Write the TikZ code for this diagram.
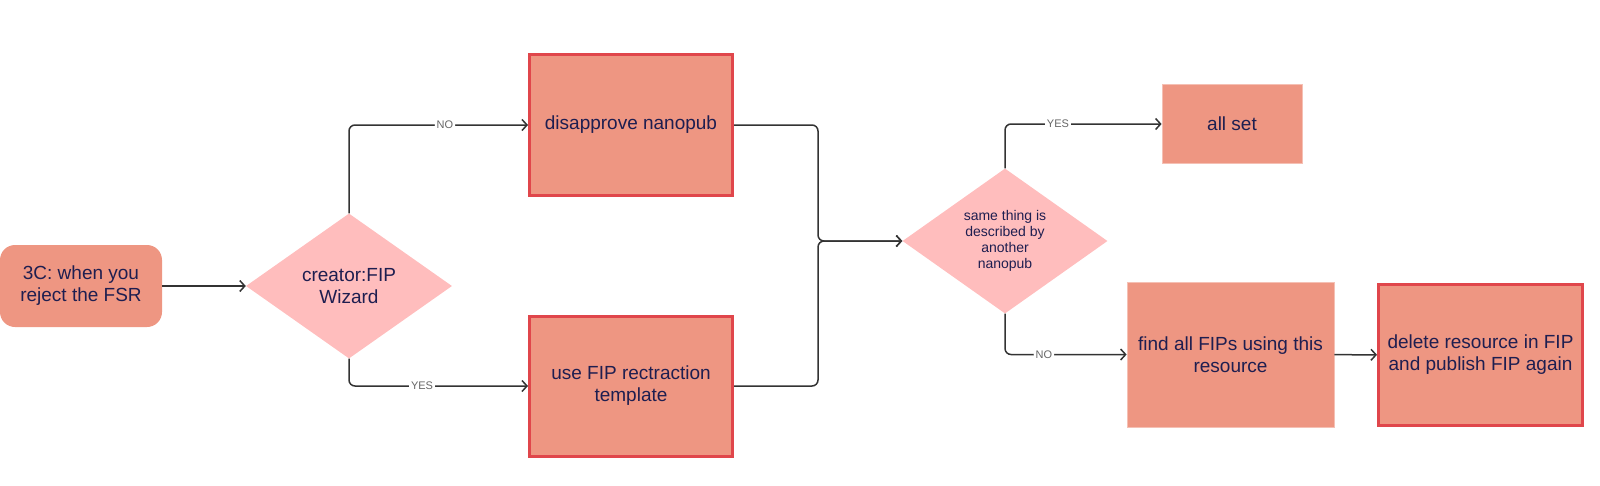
\documentclass[tikz,border=0pt]{standalone}
\usepackage{fontspec}
\setmainfont{Liberation Sans}
\usetikzlibrary{shapes.geometric,arrows.meta}
\definecolor{boxfill}{HTML}{EE9682}
\definecolor{redline}{HTML}{E0464B}
\definecolor{diafill}{HTML}{FFBDBD}
\definecolor{txt}{HTML}{1E1E50}
\definecolor{connc}{HTML}{333333}
\definecolor{lblc}{HTML}{666666}
\begin{document}
\begin{tikzpicture}[x=1pt,y=-1pt,
 every node/.style={text=txt, font=\fontsize{19}{22}\selectfont, align=center},
 proc/.style={rectangle, fill=boxfill, draw=redline, line width=3pt, inner sep=0pt},
 plain/.style={rectangle, fill=boxfill, draw=boxfill!60!white, line width=0.8pt, inner sep=0pt},
 dec/.style={diamond, fill=diafill, inner sep=0pt},
 conn/.style={draw=connc, line width=1.5pt, rounded corners=6pt, -{Straight Barb[length=5pt,width=11pt]}},
 lab/.style={fill=white, text=lblc, font=\fontsize{11}{12}\selectfont, inner sep=2pt}]
\useasboundingbox (0,0) rectangle (1600,485);
\node[rectangle, rounded corners=15pt, fill=boxfill, minimum width=162pt, minimum height=82pt, inner sep=0pt] (start) at (81,286) {3C: when you\\reject the FSR};
\node[dec, minimum width=206pt, minimum height=145pt] (cr) at (349,286) {creator:FIP\\Wizard};
\node[proc, minimum width=203pt, minimum height=141pt] (dis) at (631,125) {disapprove nanopub};
\node[proc, minimum width=203pt, minimum height=140pt] (use) at (631,386) {use FIP rectraction\\template};
\node[dec, minimum width=205pt, minimum height=145pt, font=\fontsize{14}{16}\selectfont] (d2) at (1005,241) {same thing is\\described by\\another\\nanopub};
\node[plain, minimum width=140pt, minimum height=79pt] (allset) at (1232,124) {all set};
\node[plain, minimum width=207pt, minimum height=145pt] (find) at (1230.5,354.5) {find all FIPs using this\\resource};
\node[proc, minimum width=204pt, minimum height=141pt] (del) at (1480.5,355) {delete resource in FIP\\and publish FIP again};
\coordinate (m) at (818,241);
\draw[conn] (start) -- (cr);
\draw[conn] (cr.north) |- node[lab, pos=0.768] {NO} (dis.west);
\draw[conn] (cr.south) |- node[lab, pos=0.704] {YES} (use.west);
\draw[conn] (dis.east) -| (m) -- (d2.west);
\draw[conn] (use.east) -| (m) -- (d2.west);
\draw[conn] (d2.north) |- node[lab, pos=0.669] {YES} (allset.west);
\draw[conn] (d2.south) |- node[lab, pos=0.66] {NO} (find.west);
\draw[conn] (find) -- (del);
\end{tikzpicture}
\end{document}
